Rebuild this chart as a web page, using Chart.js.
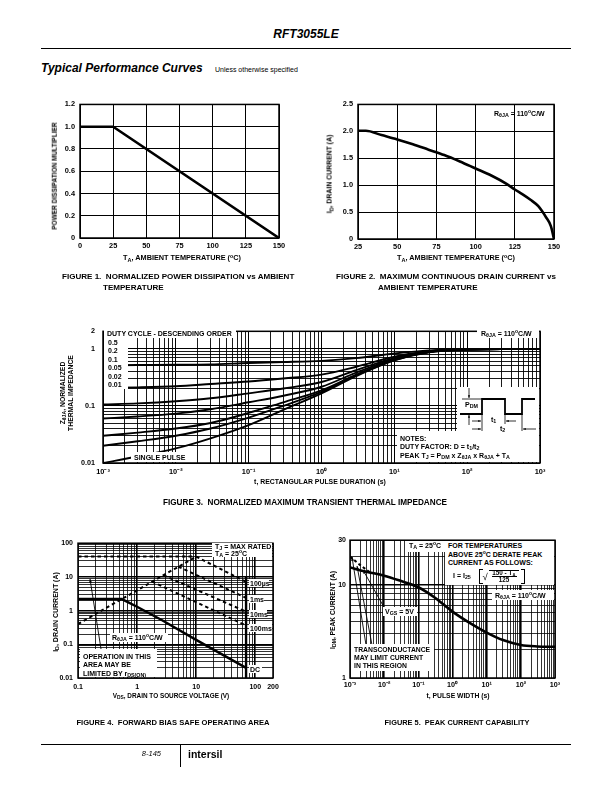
<!DOCTYPE html>
<html>
<head>
<meta charset="utf-8">
<title>RFT3055LE Typical Performance Curves</title>
<script src="https://cdn.jsdelivr.net/npm/chart.js@4.4.1/dist/chart.umd.min.js"></script>
<style>
  html, body { margin: 0; padding: 0; background: #fff; }
  body { position: relative; width: 612px; height: 792px; overflow: hidden;
         font-family: "Liberation Sans", Arial, Helvetica, sans-serif; color: #000; }
  .wrap { position: absolute; }
  .t { position: absolute; white-space: nowrap; font-weight: bold; line-height: 1; color: #000; }
  .box { position: absolute; background: #fff; }
  .rule { position: absolute; background: #000; }
  .brk { position: absolute; border: 1px solid #000; }
  sub { font-size: 76%; vertical-align: -0.35em; line-height: 0; }
  sup { font-size: 72%; vertical-align: 0.5em; line-height: 0; }
</style>
</head>
<body>
<script>
Chart.defaults.font.family = '"Liberation Sans", Arial, sans-serif';
Chart.defaults.font.weight = 'bold';
Chart.defaults.font.size = 7;
Chart.defaults.color = '#000';

// ---------------- data ----------------

// Figure 1: normalized power dissipation vs ambient temperature
const fig1Temp = [0, 25, 150];
const fig1Mult = [1.0, 1.0, 0.0];
const fig1XTicks = [0, 25, 50, 75, 100, 125, 150];
const fig1XLabels = ['0', '25', '50', '75', '100', '125', '150'];
const fig1YTicks = [0, 0.2, 0.4, 0.6, 0.8, 1.0, 1.2];
const fig1YLabels = ['0', '0.2', '0.4', '0.6', '0.8', '1.0', '1.2'];

// Figure 2: maximum continuous drain current vs ambient temperature
const fig2Temp = [25, 30, 40, 50, 60, 70, 80, 90, 100, 110, 120, 125, 130, 135, 140, 145, 148, 150];
const fig2Current = [2.01, 2.01, 1.93, 1.85, 1.76, 1.66, 1.56, 1.44, 1.31, 1.18, 1.02, 0.92, 0.83, 0.73, 0.61, 0.40, 0.24, 0.0];
const fig2XTicks = [25, 50, 75, 100, 125, 150];
const fig2XLabels = ['25', '50', '75', '100', '125', '150'];
const fig2YTicks = [0, 0.5, 1.0, 1.5, 2.0, 2.5];
const fig2YLabels = ['0', '0.5', '1.0', '1.5', '2.0', '2.5'];

// Figure 3: normalized transient thermal impedance, one array per duty cycle
const fig3Time = [1e-3, 3e-3, 1e-2, 3e-2, 1e-1, 3e-1, 1, 3, 10, 30, 100, 300, 1000];
const fig3D50 = [0.51, 0.515, 0.52, 0.53, 0.56, 0.58, 0.61, 0.68, 0.82, 0.93, 0.97, 0.98, 0.98];
const fig3D20 = [0.205, 0.21, 0.22, 0.24, 0.265, 0.30, 0.35, 0.48, 0.72, 0.90, 0.97, 0.98, 0.98];
const fig3D10 = [0.105, 0.11, 0.12, 0.135, 0.165, 0.20, 0.26, 0.42, 0.68, 0.89, 0.97, 0.98, 0.98];
const fig3D05 = [0.06, 0.065, 0.073, 0.087, 0.115, 0.15, 0.215, 0.38, 0.66, 0.88, 0.96, 0.98, 0.98];
const fig3D02 = [0.03, 0.034, 0.040, 0.050, 0.075, 0.115, 0.185, 0.35, 0.64, 0.87, 0.96, 0.98, 0.98];
const fig3D01 = [0.02, 0.024, 0.030, 0.040, 0.062, 0.10, 0.175, 0.34, 0.63, 0.87, 0.96, 0.98, 0.98];
const fig3Single = [0.010, 0.013, 0.018, 0.027, 0.046, 0.085, 0.165, 0.33, 0.62, 0.86, 0.96, 0.98, 0.98];
const fig3DutyLabels = ['0.5', '0.2', '0.1', '0.05', '0.02', '0.01'];
const fig3XTicks = [1e-3, 1e-2, 1e-1, 1, 10, 100, 1000];
const fig3XLabels = ['10\u207B\u00B3', '10\u207B\u00B2', '10\u207B\u00B9', '10\u2070', '10\u00B9', '10\u00B2', '10\u00B3'];
const fig3YTicks = [0.01, 0.1, 1, 2];
const fig3YLabels = ['0.01', '0.1', '1', '2'];

// Figure 4: forward bias safe operating area
const fig4LimitV = [0.1, 10];       const fig4LimitI = [40, 40];
const fig4RdsV = [0.1, 10];         const fig4RdsI = [0.4, 40];
const fig4Us100V = [10, 70];        const fig4Us100I = [40, 7.1];
const fig4Ms1V = [5, 70];           const fig4Ms1I = [20, 2.4];
const fig4Ms10V = [2.8, 70];        const fig4Ms10I = [11.2, 0.93];
const fig4Ms100V = [1.8, 70];       const fig4Ms100I = [7.2, 0.36];
const fig4DcV = [0.1, 0.55, 1, 2.7, 10, 70];
const fig4DcI = [2.2, 2.2, 1.3, 0.51, 0.135, 0.020];
const fig4BvV = [70, 70];           const fig4BvI = [0.01, 10];
const fig4PulseLabels = ['100\u00B5s', '1ms', '10ms', '100ms', 'DC'];
const fig4XTicks = [0.1, 1, 10, 100, 200];
const fig4XLabels = ['0.1', '1', '10', '100', '200'];
const fig4YTicks = [0.01, 0.1, 1, 10, 100];
const fig4YLabels = ['0.01', '0.1', '1', '10', '100'];

// Figure 5: peak current capability
const fig5Time = [1e-3, 3e-3, 1e-2, 3e-2, 1e-1, 3e-1, 1, 3, 10, 30, 100, 300, 1000];
const fig5Current = [15.3, 13.8, 12.5, 11.0, 9.4, 7.3, 5.15, 3.95, 3.07, 2.55, 2.26, 2.18, 2.16];
const fig5LimitTime = [1e-3, 2e-3, 4e-3];
const fig5LimitCurrent = [20, 16.2, 13.4];
const fig5XTicks = [1e-3, 1e-2, 1e-1, 1, 10, 100, 1000];
const fig5XLabels = fig3XLabels;
const fig5YTicks = [1, 10, 30];
const fig5YLabels = ['1', '10', '30'];

// ---------------- helpers ----------------
const PAD = { l: 40, r: 16, t: 8, b: 18 };

function findMajor(v, majors) {
  return majors.findIndex(m => Math.abs(v - m) <= Math.abs(m) * 1e-6 + 1e-12);
}

// grid values 1..9 x 10^n between min and max
function decadeGrid(min, max) {
  const out = [];
  for (let e = Math.floor(Math.log10(min)); e <= Math.ceil(Math.log10(max)); e++) {
    for (let k = 1; k <= 9; k++) {
      const v = parseFloat((k * Math.pow(10, e)).toPrecision(6));
      if (v >= min * 0.9999 && v <= max * 1.0001) out.push(v);
    }
  }
  return out;
}

function axis(o) {
  return {
    type: o.type, min: o.min, max: o.max,
    afterBuildTicks: s => { s.ticks = o.grid.map(v => ({ value: v })); },
    afterFit: s => { if (o.x) s.height = PAD.b; else s.width = PAD.l; },
    ticks: {
      autoSkip: false, maxRotation: 0, minRotation: 0, padding: o.pad,
      font: { size: o.size || 7, weight: 'bold' }, color: '#000',
      callback: v => { const i = findMajor(v, o.majors); return i < 0 ? '' : o.labels[i]; }
    },
    grid: {
      color: '#000', drawTicks: false,
      lineWidth: c => (c.tick && findMajor(c.tick.value, o.thick || []) >= 0) ? (o.majorW || 1) : (o.minorW || 1)
    },
    border: { display: false }
  };
}

function series(xs, ys, extra) {
  return Object.assign({
    data: xs.map((x, i) => ({ x: x, y: ys[i] })),
    borderColor: '#000', borderWidth: 2.2, pointRadius: 0, fill: false,
    borderCapStyle: 'butt', borderJoinStyle: 'miter'
  }, extra || {});
}

function plotChart(area, xAxis, yAxis, datasets, draw) {
  const [l, t, r, b] = area;
  const ox = l - PAD.l, oy = t - PAD.t;
  const w = r - l + PAD.l + PAD.r, h = b - t + PAD.t + PAD.b;
  const wrap = document.createElement('div');
  wrap.className = 'wrap';
  Object.assign(wrap.style, { left: ox + 'px', top: oy + 'px', width: w + 'px', height: h + 'px' });
  const canvas = document.createElement('canvas');
  canvas.width = w; canvas.height = h;
  canvas.style.width = w + 'px'; canvas.style.height = h + 'px';
  wrap.appendChild(canvas);
  document.body.appendChild(wrap);
  return new Chart(canvas, {
    type: 'line',
    data: { datasets: datasets },
    options: {
      responsive: false, animation: false, events: [],
      layout: { padding: { left: 0, top: PAD.t, right: PAD.r, bottom: 0 } },
      scales: { x: xAxis, y: yAxis },
      plugins: { legend: { display: false }, tooltip: { enabled: false } }
    },
    plugins: [{
      id: 'frame',
      afterDraw(chart) {
        const ctx = chart.ctx, a = chart.chartArea;
        if (draw) {
          ctx.save();
          ctx.translate(-ox, -oy);   // page coordinates
          ctx.strokeStyle = '#000'; ctx.fillStyle = '#000';
          draw(ctx);
          ctx.restore();
        }
        ctx.save();
        ctx.strokeStyle = '#000'; ctx.lineWidth = 1.5;
        ctx.strokeRect(a.left, a.top, a.right - a.left, a.bottom - a.top);
        ctx.restore();
      }
    }]
  });
}

function seg(ctx, x1, y1, x2, y2) {
  ctx.beginPath(); ctx.moveTo(x1, y1); ctx.lineTo(x2, y2); ctx.stroke();
}
function arrow(ctx, x1, y1, x2, y2, head) {
  head = head || 4;
  seg(ctx, x1, y1, x2, y2);
  const a = Math.atan2(y2 - y1, x2 - x1);
  ctx.beginPath();
  ctx.moveTo(x2, y2);
  ctx.lineTo(x2 - head * Math.cos(a - 0.38), y2 - head * Math.sin(a - 0.38));
  ctx.lineTo(x2 - head * Math.cos(a + 0.38), y2 - head * Math.sin(a + 0.38));
  ctx.closePath(); ctx.fill();
}

function text(html, x, y, size, o) {
  o = o || {};
  const d = document.createElement('div');
  d.className = 't';
  d.innerHTML = html;
  d.style.left = x + 'px';
  d.style.top = y + 'px';
  d.style.fontSize = size + 'px';
  if (o.italic) d.style.fontStyle = 'italic';
  if (o.normal) d.style.fontWeight = 'normal';
  const sx = o.sx || 1;
  if (o.rot) { d.style.transformOrigin = 'center'; d.style.transform = 'translate(-50%,-50%) rotate(-90deg) scaleX(' + sx + ')'; }
  else if (o.align === 'c') { d.style.transformOrigin = 'center'; d.style.transform = 'translate(-50%,-50%) scaleX(' + sx + ')'; }
  else if (o.align === 'r') { d.style.transformOrigin = 'right center'; d.style.transform = 'translate(-100%,-50%) scaleX(' + sx + ')'; }
  else { d.style.transformOrigin = 'left center'; d.style.transform = 'translateY(-50%) scaleX(' + sx + ')'; }
  document.body.appendChild(d);
  return d;
}
function box(x1, y1, x2, y2, cls) {
  const d = document.createElement('div');
  d.className = cls || 'box';
  Object.assign(d.style, { left: x1 + 'px', top: y1 + 'px', width: (x2 - x1) + 'px', height: (y2 - y1) + 'px' });
  document.body.appendChild(d);
  return d;
}

// ---------------- Figure 1 ----------------
plotChart([80, 103, 279, 238],
  axis({ type: 'linear', x: true, min: 0, max: 150, grid: fig1XTicks, majors: fig1XTicks, labels: fig1XLabels, pad: 4, size: 7.4 }),
  axis({ type: 'linear', min: 0, max: 1.2, grid: fig1YTicks, majors: fig1YTicks, labels: fig1YLabels, pad: 5, size: 7.4 }),
  [series(fig1Temp, fig1Mult, { borderWidth: 2.6 })]);

// ---------------- Figure 2 ----------------
plotChart([358, 103, 554, 239],
  axis({ type: 'linear', x: true, min: 25, max: 150, grid: fig2XTicks, majors: fig2XTicks, labels: fig2XLabels, pad: 4, size: 7.4 }),
  axis({ type: 'linear', min: 0, max: 2.5, grid: fig2YTicks, majors: fig2YTicks, labels: fig2YLabels, pad: 5, size: 7.4 }),
  [series(fig2Temp, fig2Current, { borderWidth: 2.6, cubicInterpolationMode: 'monotone' })]);

// ---------------- Figure 3 ----------------
plotChart([103, 327, 540, 463],
  axis({ type: 'logarithmic', x: true, min: 1e-3, max: 1e3, grid: decadeGrid(1e-3, 1e3), majors: fig3XTicks, labels: fig3XLabels, pad: 5, size: 7.4, minorW: 0.9, majorW: 1, thick: fig3XTicks }),
  axis({ type: 'logarithmic', min: 0.01, max: 2, grid: decadeGrid(0.01, 2), majors: fig3YTicks, labels: fig3YLabels, pad: 8, size: 7.2, minorW: 0.9, majorW: 1, thick: fig3YTicks }),
  [fig3D50, fig3D20, fig3D10, fig3D05, fig3D02, fig3D01, fig3Single].map(z =>
    series(fig3Time, z, { borderWidth: 1.9, cubicInterpolationMode: 'monotone' })),
  function (ctx) {
    // pulse waveform sketch
    ctx.fillStyle = '#fff';
    ctx.fillRect(457, 387, 82, 44);
    ctx.fillStyle = '#000';
    ctx.lineWidth = 1.8;
    ctx.beginPath();
    [[460, 414], [482, 414], [482, 399], [505, 399], [505, 414], [522, 414], [522, 399], [535, 399]]
      .forEach((p, i) => i ? ctx.lineTo(p[0], p[1]) : ctx.moveTo(p[0], p[1]));
    ctx.stroke();
    ctx.lineWidth = 0.8;
    seg(ctx, 462, 399, 481, 399);
    seg(ctx, 482, 414, 482, 431);
    seg(ctx, 505, 414, 505, 424);
    seg(ctx, 522, 414, 522, 431);
    arrow(ctx, 469, 388, 469, 398, 3);
    arrow(ctx, 469, 425, 469, 415, 3);
    arrow(ctx, 472, 421, 481, 421, 3);
    arrow(ctx, 516, 421, 506, 421, 3);
    arrow(ctx, 472, 429, 481, 429, 3);
    arrow(ctx, 536, 429, 523, 429, 3);
  });

// ---------------- Figure 4 ----------------
const dash = { borderDash: [3.5, 3], borderWidth: 2 };
plotChart([78, 542, 273, 678],
  axis({ type: 'logarithmic', x: true, min: 0.1, max: 200, grid: decadeGrid(0.1, 200), majors: fig4XTicks, labels: fig4XLabels, pad: 5, minorW: 0.8, majorW: 1.6, thick: [1, 10, 100] }),
  axis({ type: 'logarithmic', min: 0.01, max: 100, grid: decadeGrid(0.01, 100), majors: fig4YTicks, labels: fig4YLabels, pad: 5, minorW: 0.8, majorW: 1.6, thick: [0.1, 1, 10] }),
  [
    series(fig4LimitV, fig4LimitI, dash),
    series(fig4RdsV, fig4RdsI, dash),
    series(fig4Us100V, fig4Us100I, dash),
    series(fig4Ms1V, fig4Ms1I, dash),
    series(fig4Ms10V, fig4Ms10I, dash),
    series(fig4Ms100V, fig4Ms100I, dash),
    series(fig4DcV, fig4DcI, { borderWidth: 2.4 }),
    series(fig4BvV, fig4BvI, { borderWidth: 2.4 })
  ],
  function (ctx) {
    ctx.lineWidth = 0.9;
    arrow(ctx, 101, 649, 90, 579, 4);
  });

// ---------------- Figure 5 ----------------
plotChart([350, 540, 555, 678],
  axis({ type: 'logarithmic', x: true, min: 1e-3, max: 1e3, grid: decadeGrid(1e-3, 1e3), majors: fig5XTicks, labels: fig5XLabels, pad: 3, size: 7.2, minorW: 0.8, majorW: 1.6, thick: [1e-2, 1e-1, 1, 10, 100] }),
  axis({ type: 'logarithmic', min: 1, max: 30, grid: decadeGrid(1, 30), majors: fig5YTicks, labels: fig5YLabels, pad: 4, minorW: 0.8, majorW: 1.6, thick: [10] }),
  [
    series(fig5LimitTime, fig5LimitCurrent, { borderDash: [3, 2.5], borderWidth: 2 }),
    series(fig5Time, fig5Current, { borderWidth: 2.6, cubicInterpolationMode: 'monotone' })
  ],
  function (ctx) {
    ctx.lineWidth = 0.9;
    arrow(ctx, 366, 645, 352, 557, 4);
    arrow(ctx, 372, 645, 357, 566, 4);
    arrow(ctx, 385, 609, 363, 570, 4);
  });

// ---------------- page text ----------------
const NOTE = 7;      // annotation text size inside the plots

// header
text('RFT3055LE', 306, 34, 12, { italic: true, align: 'c' });
box(41, 47.5, 571, 48.8, 'rule');
text('Typical Performance Curves', 41, 68, 12, { italic: true });
text('Unless otherwise specified', 215, 68.5, 7, { normal: true }).style.opacity = '0.999';

// figure 1
text('POWER DISSIPATION MULTIPLIER', 55, 176, 6.5, { rot: true });
text('T<sub>A</sub>, AMBIENT TEMPERATURE (<sup>o</sup>C)', 182, 258, 7.3, { align: 'c' });
text('FIGURE 1.&nbsp; NORMALIZED POWER DISSIPATION vs AMBIENT', 62, 277, 8.05);
text('TEMPERATURE', 103, 288, 8.05);

// figure 2
text('I<sub>D</sub>, DRAIN CURRENT (A)', 330, 174, 6.9, { rot: true });
text('T<sub>A</sub>, AMBIENT TEMPERATURE (<sup>o</sup>C)', 456, 258, 7.3, { align: 'c' });
text('R<sub>\u03B8JA</sub> = 110<sup>o</sup>C/W', 494, 113, NOTE);
text('FIGURE 2.&nbsp; MAXIMUM CONTINUOUS DRAIN CURRENT vs', 336, 277, 8.05);
text('AMBIENT TEMPERATURE', 378, 288, 8.05);

// figure 3
box(104, 328, 236, 338);
box(104, 338, 128, 389);
box(131, 452, 189, 462);
box(477, 328, 539, 338);
box(397, 431, 539, 462);
text('DUTY CYCLE - DESCENDING ORDER', 107, 333, NOTE);
fig3DutyLabels.forEach((s, i) => text(s, 108, 342 + i * 8.4, NOTE));
text('SINGLE PULSE', 134, 457, NOTE);
text('R<sub>\u03B8JA</sub> = 110<sup>o</sup>C/W', 481, 332.5, NOTE);
text('P<sub>DM</sub>', 465, 404, NOTE);
text('t<sub>1</sub>', 491, 418.5, NOTE);
text('t<sub>2</sub>', 500, 427.5, NOTE);
text('NOTES:', 400, 437.5, NOTE);
text('DUTY FACTOR: D = t<sub>1</sub>/t<sub>2</sub>', 400, 446, NOTE);
text('PEAK T<sub>J</sub> = P<sub>DM</sub> x Z<sub>\u03B8JA</sub> x R<sub>\u03B8JA</sub> + T<sub>A</sub>', 400, 455, NOTE);
text('Z<sub>\u03B8JA</sub>, NORMALIZED', 62.5, 393, 6.8, { rot: true });
text('THERMAL IMPEDANCE', 70.5, 393, 6.8, { rot: true });
text('t, RECTANGULAR PULSE DURATION (s)', 320, 482, 6.9, { align: 'c' });
text('FIGURE 3.&nbsp; NORMALIZED MAXIMUM TRANSIENT THERMAL IMPEDANCE', 305, 503, 8.2, { align: 'c' });

// figure 4
box(212, 543, 272, 557);
text('T<sub>J</sub> = MAX RATED', 215, 545.5, NOTE);
text('T<sub>A</sub> = 25<sup>o</sup>C', 215, 553, NOTE);
const fig4LabelY = [583, 599, 614, 628, 669];
const fig4LabelEnd = [269, 264, 267, 272, 262];
fig4PulseLabels.forEach((s, i) => {
  box(249, fig4LabelY[i] - 3.8, fig4LabelEnd[i], fig4LabelY[i] + 3.8);
  text(s, 250, fig4LabelY[i], NOTE);
});
box(110, 632.5, 168, 642);
text('R<sub>\u03B8JA</sub> = 110<sup>o</sup>C/W', 112, 637, NOTE);
box(79.5, 649, 157, 677);
text('OPERATION IN THIS', 83, 655.5, NOTE);
text('AREA MAY BE', 83, 664, NOTE);
text('LIMITED BY r<sub>DS(ON)</sub>', 83, 672.5, NOTE);
text('I<sub>D</sub>, DRAIN CURRENT (A)', 55, 612, 7, { rot: true });
text('V<sub>DS</sub>, DRAIN TO SOURCE VOLTAGE (V)', 171, 696, 6.4, { align: 'c' });
text('FIGURE 4.&nbsp; FORWARD BIAS SAFE OPERATING AREA', 173, 723, 7.6, { align: 'c' });

// figure 5
box(406, 541, 554, 552);
box(445, 552, 554, 585);
box(492, 590, 554, 599.5);
box(383, 607, 417, 615.5);
box(351, 644, 434, 671);
text('T<sub>A</sub> = 25<sup>o</sup>C', 409, 545, NOTE);
text('FOR TEMPERATURES', 448, 545, NOTE);
text('ABOVE 25<sup>o</sup>C DERATE PEAK', 448, 553.5, NOTE);
text('CURRENT AS FOLLOWS:', 448, 562, NOTE);
text('I = I<sub>25</sub>', 453, 575, NOTE);
box(478.5, 568.5, 481.5, 582, 'brk').style.borderRight = 'none';
box(521, 568.5, 524, 582, 'brk').style.borderLeft = 'none';
text('\u221A', 482.5, 576.5, 9.5, { normal: true });
box(488.5, 569.5, 519, 570.3, 'rule');
text('150 - T<sub>A</sub>', 504, 573, 6.3, { align: 'c' });
box(492, 575.8, 517, 576.5, 'rule');
text('125', 504, 579.6, 6.3, { align: 'c' });
text('R<sub>\u03B8JA</sub> = 110<sup>o</sup>C/W', 495, 595, NOTE);
text('V<sub>GS</sub> = 5V', 385, 611, NOTE);
text('TRANSCONDUCTANCE', 354, 649.5, 6.8);
text('MAY LIMIT CURRENT', 354, 657.5, 6.8);
text('IN THIS REGION', 354, 665.5, 6.8);
text('I<sub>DM</sub>, PEAK CURRENT (A)', 333, 610, 6.7, { rot: true });
text('t, PULSE WIDTH (s)', 458, 696, 6.8, { align: 'c' });
text('FIGURE 5.&nbsp; PEAK CURRENT CAPABILITY', 457, 723, 7.4, { align: 'c' });

// footer
box(41, 744, 571, 745.2, 'rule');
box(180, 745, 181, 767, 'rule');
text('8-145', 161, 754, 7.5, { italic: true, normal: true, align: 'r' });
text('intersil', 188, 754, 10.5, {});
</script>
</body>
</html>
